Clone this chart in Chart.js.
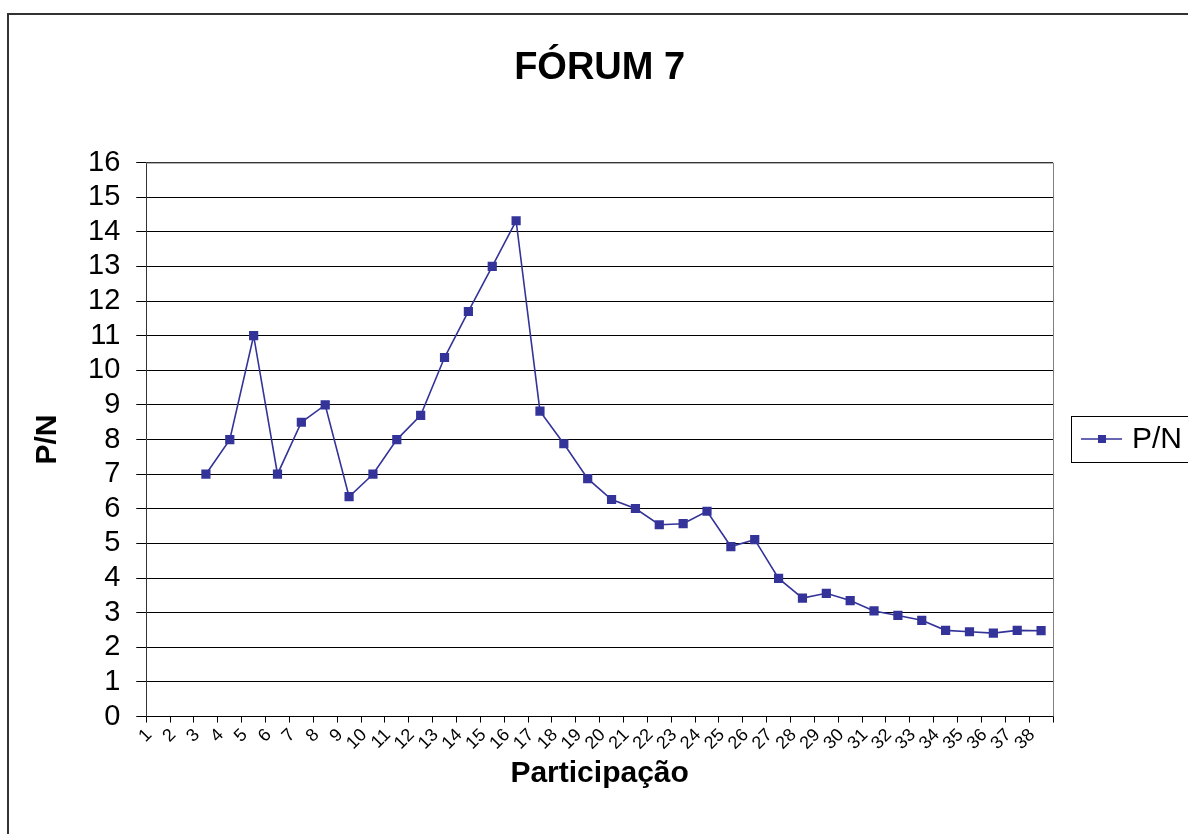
<!DOCTYPE html>
<html lang="pt">
<head>
    <meta charset="UTF-8">
    <title>FÓRUM 7</title>
    <style>
        html, body { margin: 0; padding: 0; background: #fff; overflow: hidden; }
        .frame { position: absolute; left: 7px; top: 13px; width: 1181px; height: 821px;
                 border-left: 2px solid #333; border-top: 2px solid #333; }
        #forumChart { display: block; }
    </style>
</head>
<body>
    <div class="frame">
        <canvas id="forumChart" width="1179" height="819"></canvas>
    </div>

    <script src="https://cdn.jsdelivr.net/npm/chart.js"></script>
    <script>
        const categories = ['1','2','3','4','5','6','7','8','9','10','11','12','13','14','15','16','17','18','19',
                            '20','21','22','23','24','25','26','27','28','29','30','31','32','33','34','35','36','37','38'];
        const pnValues = [null, null, 7, 8, 11, 7, 8.5, 9, 6.35, 7, 8, 8.7, 10.37, 11.7, 13, 14.32, 8.82, 7.88, 6.87,
                          6.27, 6.01, 5.54, 5.57, 5.93, 4.91, 5.11, 3.99, 3.42, 3.56, 3.35, 3.05, 2.92, 2.78, 2.49,
                          2.45, 2.41, 2.49, 2.48];
        const yTicks = [0, 1, 2, 3, 4, 5, 6, 7, 8, 9, 10, 11, 12, 13, 14, 15, 16];

        const lineColor = '#333399';
        const fontFamily = "'Liberation Sans', Arial, sans-serif";

        // grey frame round the plot area, like the old spreadsheet chart
        const plotBorder = {
            id: 'plotBorder',
            afterDraw(chart) {
                const { ctx, chartArea: a } = chart;
                ctx.save();
                ctx.strokeStyle = '#808080';
                ctx.lineWidth = 1;
                ctx.beginPath();
                ctx.moveTo(a.left, a.top + 0.5);
                ctx.lineTo(a.right + 0.5, a.top + 0.5);
                ctx.lineTo(a.right + 0.5, a.bottom);
                ctx.stroke();
                ctx.restore();
            }
        };

        // boxed legend on the right side
        const boxLegend = {
            id: 'boxLegend',
            afterDraw(chart) {
                const { ctx } = chart;
                const ds = chart.data.datasets[0];
                const x = 1062, y = 401, h = 46, midY = y + h / 2;
                ctx.save();
                ctx.strokeStyle = '#000';
                ctx.lineWidth = 1;
                ctx.strokeRect(x + 0.5, y + 0.5, 200, h);
                ctx.strokeStyle = ds.borderColor;
                ctx.lineWidth = 1.5;
                ctx.beginPath();
                ctx.moveTo(x + 10, midY);
                ctx.lineTo(x + 51, midY);
                ctx.stroke();
                ctx.fillStyle = ds.backgroundColor;
                ctx.fillRect(x + 27, midY - 4, 8, 8);
                ctx.fillStyle = '#000';
                ctx.font = '30px ' + fontFamily;
                ctx.textBaseline = 'middle';
                ctx.fillText(ds.label, x + 61, midY + 1);
                ctx.restore();
            }
        };

        new Chart(document.getElementById('forumChart'), {
            type: 'line',
            data: {
                labels: categories,
                datasets: [{
                    label: 'P/N',
                    data: pnValues,
                    borderColor: lineColor,
                    backgroundColor: lineColor,
                    borderWidth: 1.6,
                    pointStyle: 'rect',
                    pointRadius: 6.5,
                    pointBorderWidth: 0,
                    tension: 0
                }]
            },
            options: {
                responsive: false,
                animation: false,
                layout: { padding: { left: 0, right: 135, top: 31, bottom: 42 } },
                plugins: {
                    legend: { display: false },
                    tooltip: { enabled: false },
                    title: {
                        display: true,
                        fullSize: false,
                        text: 'FÓRUM 7',
                        color: '#000',
                        font: { family: fontFamily, size: 38, weight: 'bold' },
                        padding: { top: 0, bottom: 71 }
                    }
                },
                scales: {
                    x: {
                        offset: true,
                        border: { color: '#000', width: 1 },
                        grid: { offset: true, drawOnChartArea: false, drawTicks: true, tickLength: 6, color: '#000' },
                        ticks: {
                            autoSkip: false, minRotation: 45, maxRotation: 45, padding: 2, labelOffset: -9,
                            color: '#000', font: { family: fontFamily, size: 18 }
                        },
                        title: {
                            display: true, text: 'Participação', color: '#000',
                            font: { family: fontFamily, size: 30, weight: 'bold' },
                            padding: { top: 0, bottom: 0 }
                        }
                    },
                    y: {
                        min: 0,
                        max: 16,
                        afterBuildTicks(axis) { axis.ticks = yTicks.map(v => ({ value: v })); },
                        border: { color: '#333', width: 1 },
                        grid: { color: '#000', lineWidth: 1, tickLength: 10, drawTicks: true },
                        ticks: { autoSkip: false, padding: 16, color: '#000', font: { family: fontFamily, size: 29 } },
                        title: {
                            display: true, text: 'P/N', color: '#000',
                            font: { family: fontFamily, size: 30, weight: 'bold' },
                            padding: { top: 21, bottom: 6 }
                        }
                    }
                }
            },
            plugins: [plotBorder, boxLegend]
        });
    </script>
</body>
</html>
